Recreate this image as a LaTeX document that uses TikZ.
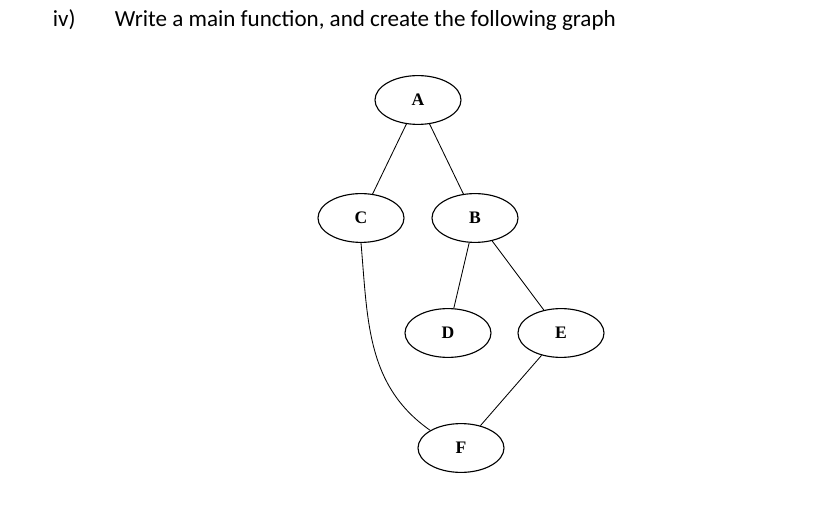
\documentclass[tikz,border=0pt]{standalone}
\usepackage{fontspec}
\setsansfont{Carlito}
\newfontfamily\nodefont{Liberation Serif}
\usetikzlibrary{shapes.geometric}
\tikzset{
  vertex/.style={draw, ellipse, line width=0.8pt, minimum width=2.15cm, minimum height=1.22cm, font=\nodefont\bfseries\fontsize{12.5}{14}\selectfont},
  edge/.style={line width=0.6pt}
}
\begin{document}
\begin{tikzpicture}[x=0.025cm, y=-0.025cm, every text node part/.style={align=center}]
  \useasboundingbox (0,0) rectangle (817,505);
  \node[anchor=base west, font=\sffamily\fontsize{16.4}{19}\selectfont] (num) at (48,27) {iv)};
  \node[anchor=base west, font=\sffamily\fontsize{16.4}{19}\selectfont] (task) at (110,27) {Write a main function, and create the following graph};

  \node[vertex] (a) at (418,100) {A};
  \node[vertex] (c) at (361,218) {C};
  \node[vertex] (b) at (475,218) {B};
  \node[vertex] (d) at (448,333) {D};
  \node[vertex] (e) at (561,333) {E};
  \node[vertex] (f) at (461,448) {F};

  \draw[edge] (a) -- (c);
  \draw[edge] (a) -- (b);
  \draw[edge] (b) -- (d);
  \draw[edge] (b) -- (e);
  \draw[edge] (e) -- (f);
  \draw[edge] (c.south) to[out=-85, in=145] (f.north west);
\end{tikzpicture}
\end{document}
